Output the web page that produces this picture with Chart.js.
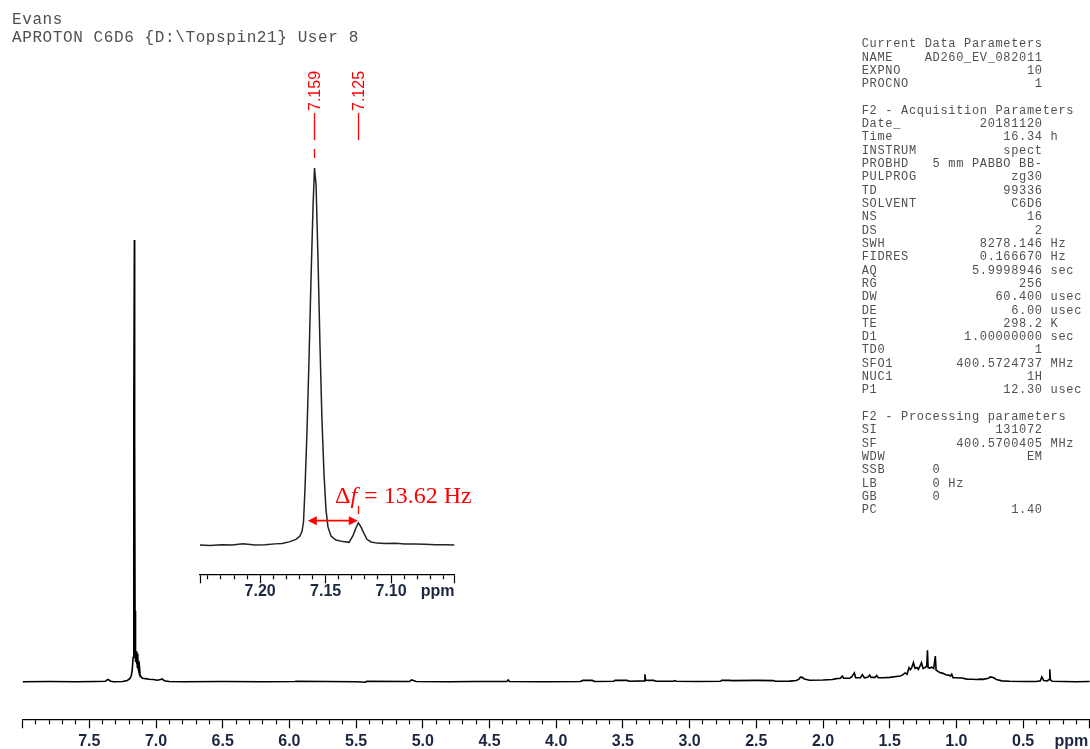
<!DOCTYPE html>
<html>
<head>
<meta charset="utf-8">
<script src="https://cdn.jsdelivr.net/npm/chart.js@4.4.0/dist/chart.umd.min.js"></script>
<style>
  body { margin: 0; background: #fff; }
  #page { position: relative; width: 1090px; height: 749px; overflow: hidden; background: #fff; }
  canvas { position: absolute; left: 0; top: 0; }
  pre { position: absolute; margin: 0; font-family: "Liberation Mono", monospace; color: #505050; }
  #head { left: 12px; top: 11px; font-size: 16px; line-height: 18px; letter-spacing: 0.6px; }
  #params { left: 861.7px; top: 38.3px; font-size: 12px; line-height: 13.31px; letter-spacing: 0.67px; }
</style>
</head>
<body>
<div id="page">
  <canvas id="main" width="1090" height="749"></canvas>
  <canvas id="inset" width="1090" height="749"></canvas>
  <pre id="head">Evans
APROTON C6D6 {D:\Topspin21} User 8</pre>
  <pre id="params"></pre>
</div>
<script>
// full spectrum (ppm, intensity in % of the tallest line)
const mainPpm = [
  8.00, 7.80, 7.60, 7.45, 7.38, 7.365, 7.355, 7.345, 7.32, 7.25, 7.215, 7.195, 7.185, 7.178, 7.172,
  7.168, 7.165, 7.162, 7.160, 7.157, 7.155, 7.152, 7.149, 7.146, 7.143, 7.140, 7.137, 7.134, 7.131,
  7.128, 7.124, 7.119, 7.112, 7.10, 7.08, 7.05, 7.02, 6.99, 6.965, 6.955, 6.945, 6.93, 6.90, 6.80,
  6.50, 6.20, 5.96, 5.95, 5.50, 5.43, 5.42, 5.10, 5.085, 5.07, 5.05, 4.80, 4.60, 4.37, 4.36, 4.35,
  4.10, 3.82, 3.80, 3.73, 3.71, 3.57, 3.56, 3.47, 3.45, 3.34, 3.335, 3.33, 3.31, 3.27, 3.25, 3.12,
  3.11, 3.10, 2.95, 2.77, 2.76, 2.70, 2.68, 2.50, 2.37, 2.36, 2.25, 2.20, 2.18, 2.17, 2.155, 2.14,
  2.10, 2.00, 1.93, 1.90, 1.87, 1.855, 1.845, 1.80, 1.785, 1.765, 1.755, 1.72, 1.705, 1.69, 1.665,
  1.65, 1.64, 1.61, 1.598, 1.585, 1.55, 1.50, 1.45, 1.42, 1.40, 1.385, 1.37, 1.355, 1.345, 1.335,
  1.322, 1.31, 1.295, 1.285, 1.275, 1.262, 1.25, 1.235, 1.222, 1.217, 1.212, 1.20, 1.185, 1.17,
  1.158, 1.152, 1.14, 1.125, 1.10, 1.08, 1.06, 1.045, 1.035, 1.025, 1.00, 0.96, 0.92, 0.88, 0.85,
  0.82, 0.80, 0.76, 0.745, 0.72, 0.70, 0.66, 0.60, 0.50, 0.40, 0.37, 0.36, 0.345, 0.32, 0.305,
  0.300, 0.295, 0.28, 0.20, 0.10, 0.00
];
const mainIntensity = [
  0, 0.05, 0, 0.05, 0.1, 0.45, 0.5, 0.15, 0, 0.05, 0.3, 0.75, 1.4, 2.6, 5.5,
  18, 60, 100, 55, 16, 6.2, 4.5, 6.9, 4.0, 5.6, 3.3, 6.4, 3.0, 4.6,
  2.4, 3.5, 1.5, 1.1, 0.8, 0.7, 0.55, 0.5, 0.35, 0.5, 0.65, 0.4, 0.15, 0.05, 0,
  0.05, 0, 0.05, 0.1, 0, -0.1, 0.1, 0.05, 0.4, 0.3, 0.05, 0, 0.05, 0.05, 0.4, 0.05,
  0, 0.05, 0.3, 0.3, 0.05, 0.1, 0.3, 0.3, 0.1, 0.2, 1.7, 0.4, 0.3, 0.3, 0.1, 0.1,
  0.25, 0.1, 0.05, 0.1, 0.3, 0.3, 0.25, 0.3, 0.25, 0.1, 0.15, 0.3, 0.6, 1.05, 1.0, 0.6,
  0.35, 0.4, 0.5, 0.7, 0.8, 1.3, 0.8, 0.8, 1.1, 2.0, 0.9, 0.9, 1.6, 0.9, 1.0,
  1.5, 1.0, 1.0, 1.4, 0.9, 0.9, 1.0, 1.2, 1.3, 1.6, 2.0, 1.7, 3.2, 2.7, 3.2,
  4.3, 3.0, 3.2, 2.8, 3.4, 4.3, 3.0, 3.2, 3.6, 7.1, 3.2, 3.1, 3.3, 3.0,
  5.8, 2.6, 2.4, 2.1, 1.9, 1.6, 1.5, 1.3, 1.7, 0.9, 0.9, 0.85, 0.6, 0.55, 0.5,
  0.6, 0.55, 0.8, 1.1, 0.9, 0.5, 0.2, 0.1, 0.05, 0.05, 0.2, 1.1, 0.3, 0.2, 0.5,
  2.8, 0.4, 0.1, 0.05, 0, 0.05
];

// expanded region 7.05 - 7.25 ppm
const insetPpm = [
  7.2460, 7.2384, 7.2292, 7.2215, 7.2131, 7.2040, 7.1963, 7.1887, 7.1833, 7.1772, 7.1726, 7.1696,
  7.1680, 7.1669, 7.1658, 7.1642, 7.1627, 7.1612, 7.1596, 7.1585, 7.1573, 7.1558, 7.1543, 7.1528,
  7.1512, 7.1497, 7.1482, 7.1459, 7.1421, 7.1367, 7.1321, 7.1291, 7.1268, 7.1250, 7.1230, 7.1207,
  7.1184, 7.1153, 7.1107, 7.1046, 7.0970, 7.0893, 7.0817, 7.0740, 7.0664, 7.0588, 7.0515
];
const insetIntensity = [
  0, -0.1, 0.1, 0, 0.3, 0, 0.1, 0.3, 0.4, 0.9, 1.5, 2.4,
  3.7, 6.1, 14.6, 30.5, 49, 70, 90, 100, 95.5, 75.6, 53, 33.2,
  18.6, 9.3, 4.8, 2.4, 1.3, 0.9, 0.7, 2.5, 4.5, 5.9, 4.8, 3.1,
  1.5, 0.8, 0.5, 0.4, 0.45, 0.3, 0.3, 0.2, 0.1, 0.1, 0
];

const mainTickLabels = ['7.5', '7.0', '6.5', '6.0', '5.5', '5.0', '4.5', '4.0', '3.5', '3.0', '2.5', '2.0', '1.5', '1.0', '0.5'];
const insetTickLabels = ['7.20', '7.15', '7.10'];
const peakPpm = [7.159, 7.125];
const peakLabels = ['7.159', '7.125'];
const deltaArrowPpm = [7.1636, 7.1254];
const deltaText = ['Δ', 'f', ' = 13.62 Hz'];

const paramRows = [
  ['Current Data Parameters'],
  ['NAME', 'AD260_EV_082011'],
  ['EXPNO', '10'],
  ['PROCNO', '1'],
  [],
  ['F2 - Acquisition Parameters'],
  ['Date_', '20181120'],
  ['Time', '16.34', 'h'],
  ['INSTRUM', 'spect'],
  ['PROBHD', '5 mm PABBO BB-'],
  ['PULPROG', 'zg30'],
  ['TD', '99336'],
  ['SOLVENT', 'C6D6'],
  ['NS', '16'],
  ['DS', '2'],
  ['SWH', '8278.146', 'Hz'],
  ['FIDRES', '0.166670', 'Hz'],
  ['AQ', '5.9998946', 'sec'],
  ['RG', '256'],
  ['DW', '60.400', 'usec'],
  ['DE', '6.00', 'usec'],
  ['TE', '298.2', 'K'],
  ['D1', '1.00000000', 'sec'],
  ['TD0', '1'],
  ['SFO1', '400.5724737', 'MHz'],
  ['NUC1', '1H'],
  ['P1', '12.30', 'usec'],
  [],
  ['F2 - Processing parameters'],
  ['SI', '131072'],
  ['SF', '400.5700405', 'MHz'],
  ['WDW', 'EM'],
  ['SSB', '0', '', 'left'],
  ['LB', '0', 'Hz', 'left'],
  ['GB', '0', '', 'left'],
  ['PC', '1.40']
];

document.getElementById('params').textContent = paramRows.map(r => {
  if (r.length < 2) return r[0] || '';
  const [name, val, unit, align] = r;
  const body = align === 'left' ? name.padEnd(9) + val : name.padEnd(23 - val.length) + val;
  return unit ? body + ' ' + unit : body;
}).join('\n');

const labelFor = (v, digits, list) => {
  const t = v.toFixed(digits);
  return list.includes(t) ? t : '';
};

// long ticks on the labelled steps and the axis ends, short ones elsewhere
const tickDash = (step) => (ctx) => {
  if (!ctx.tick) return [];
  const s = ctx.scale, v = ctx.tick.value;
  const isEnd = Math.abs(v - s.min) < 1e-9 || Math.abs(v - s.max) < 1e-9;
  const isMajor = Math.abs(v / step - Math.round(v / step)) < 1e-6;
  return (isEnd || isMajor) ? [] : [4, 40];
};

const unitLabel = {
  id: 'unitLabel',
  afterDraw(chart, args, opts) {
    const s = chart.scales.x, t = s.options.ticks, g = s.options.grid;
    const ctx = chart.ctx;
    ctx.save();
    ctx.font = 'bold 16px "Liberation Sans"';
    ctx.fillStyle = t.color;
    ctx.textAlign = 'right';
    ctx.textBaseline = 'middle';
    ctx.fillText(opts.text, s.right + (opts.dx || 0), s.top + g.tickLength + t.padding + 9.6);
    ctx.restore();
  }
};

const peakMarks = {
  id: 'peakMarks',
  afterDatasetsDraw(chart) {
    const { ctx, scales: { x } } = chart;
    ctx.save();
    ctx.strokeStyle = '#f00';
    ctx.fillStyle = '#f00';
    ctx.lineWidth = 1.3;
    const seg = (px, y1, y2) => {
      ctx.beginPath(); ctx.moveTo(px, y1); ctx.lineTo(px, y2); ctx.stroke();
    };
    const px = peakPpm.map(p => Math.round(x.getPixelForValue(p)) + 0.5);
    px.forEach((p, i) => {
      seg(p, 113, 140);
      ctx.save();
      ctx.translate(p + 1.5, 111);
      ctx.rotate(-Math.PI / 2);
      ctx.font = '16px "Liberation Sans"';
      ctx.textAlign = 'left';
      ctx.textBaseline = 'middle';
      ctx.fillText(peakLabels[i], 0, 0);
      ctx.restore();
    });
    seg(px[0], 149, 158);
    seg(px[1], 506, 514);

    // double arrow between the two lines
    const a1 = x.getPixelForValue(deltaArrowPpm[0]);
    const a2 = x.getPixelForValue(deltaArrowPpm[1]);
    const ay = 520.7;
    ctx.lineWidth = 1.8;
    ctx.beginPath(); ctx.moveTo(a1 + 6, ay); ctx.lineTo(a2 - 6, ay); ctx.stroke();
    ctx.beginPath();
    ctx.moveTo(a1, ay); ctx.lineTo(a1 + 9, ay - 4.5); ctx.lineTo(a1 + 9, ay + 4.5); ctx.closePath();
    ctx.moveTo(a2, ay); ctx.lineTo(a2 - 9, ay - 4.5); ctx.lineTo(a2 - 9, ay + 4.5); ctx.closePath();
    ctx.fill();

    let tx = 335;
    const ty = 503;
    ctx.textAlign = 'left';
    ctx.textBaseline = 'alphabetic';
    deltaText.forEach((part, i) => {
      ctx.font = (i === 1 ? 'italic ' : '') + '24px "Liberation Serif"';
      ctx.fillText(part, tx, ty);
      tx += ctx.measureText(part).width + (i === 1 ? 1 : 0);
    });
    ctx.restore();
  }
};

const axisFont = { family: 'Liberation Sans', size: 16, weight: 'bold' };
const axisColor = '#1b2640';

new Chart(document.getElementById('main'), {
  type: 'line',
  data: {
    datasets: [{
      data: mainPpm.map((x, i) => ({ x, y: mainIntensity[i] })),
      borderColor: '#000',
      borderWidth: 1.6,
      pointRadius: 0,
      tension: 0,
      fill: false
    }]
  },
  options: {
    responsive: false,
    animation: false,
    devicePixelRatio: 1,
    events: [],
    layout: { padding: { left: 22.6, right: 0.2, top: 195.8, bottom: 0 } },
    plugins: {
      legend: { display: false },
      tooltip: { enabled: false },
      unitLabel: { text: 'ppm', dx: -1.5 }
    },
    scales: {
      x: {
        type: 'linear',
        reverse: true,
        min: 0,
        max: 8,
        border: { display: true, color: '#000', width: 1.3 },
        grid: {
          drawOnChartArea: false, drawTicks: true, tickLength: 9,
          tickColor: '#000', tickWidth: 1.2, tickBorderDash: tickDash(0.5)
        },
        ticks: {
          stepSize: 0.1, autoSkip: false, maxRotation: 0, minRotation: 0, padding: 4,
          color: axisColor, font: axisFont,
          callback: v => labelFor(v, 1, mainTickLabels)
        },
        afterFit: s => { s.height = 749 - 719.3; s.paddingLeft = 0; s.paddingRight = 0; }
      },
      y: { display: false, min: -8.5, max: 110 }
    }
  },
  plugins: [unitLabel]
});

new Chart(document.getElementById('inset'), {
  type: 'line',
  data: {
    datasets: [{
      data: insetPpm.map((x, i) => ({ x, y: insetIntensity[i] })),
      borderColor: '#222',
      borderWidth: 1.5,
      pointRadius: 0,
      tension: 0,
      fill: false
    }]
  },
  options: {
    responsive: false,
    animation: false,
    devicePixelRatio: 1,
    events: [],
    layout: { padding: { left: 200, right: 1090 - 454.5, top: 130.3, bottom: 749 - 574.3 - 26 } },
    plugins: {
      legend: { display: false },
      tooltip: { enabled: false },
      unitLabel: { text: 'ppm', dx: 0 }
    },
    scales: {
      x: {
        type: 'linear',
        reverse: true,
        min: 7.0515,
        max: 7.246,
        border: { display: true, color: '#000', width: 1.3 },
        grid: {
          drawOnChartArea: false, drawTicks: true, tickLength: 9,
          tickColor: '#000', tickWidth: 1.2, tickBorderDash: tickDash(0.05)
        },
        ticks: {
          stepSize: 0.01, autoSkip: false, maxRotation: 0, minRotation: 0, padding: -1,
          color: axisColor, font: axisFont,
          callback: v => labelFor(v, 2, insetTickLabels)
        },
        afterBuildTicks: s => {
          const vals = [s.min];
          for (let k = Math.ceil(s.min * 100 + 1e-9); k <= Math.floor(s.max * 100 - 1e-9); k++) vals.push(k / 100);
          vals.push(s.max);
          s.ticks = vals.map(value => ({ value }));
        },
        afterFit: s => { s.height = 26; s.paddingLeft = 0; s.paddingRight = 0; }
      },
      y: { display: false, min: -7.77, max: 110 }
    }
  },
  plugins: [peakMarks, unitLabel]
});
</script>
</body>
</html>
